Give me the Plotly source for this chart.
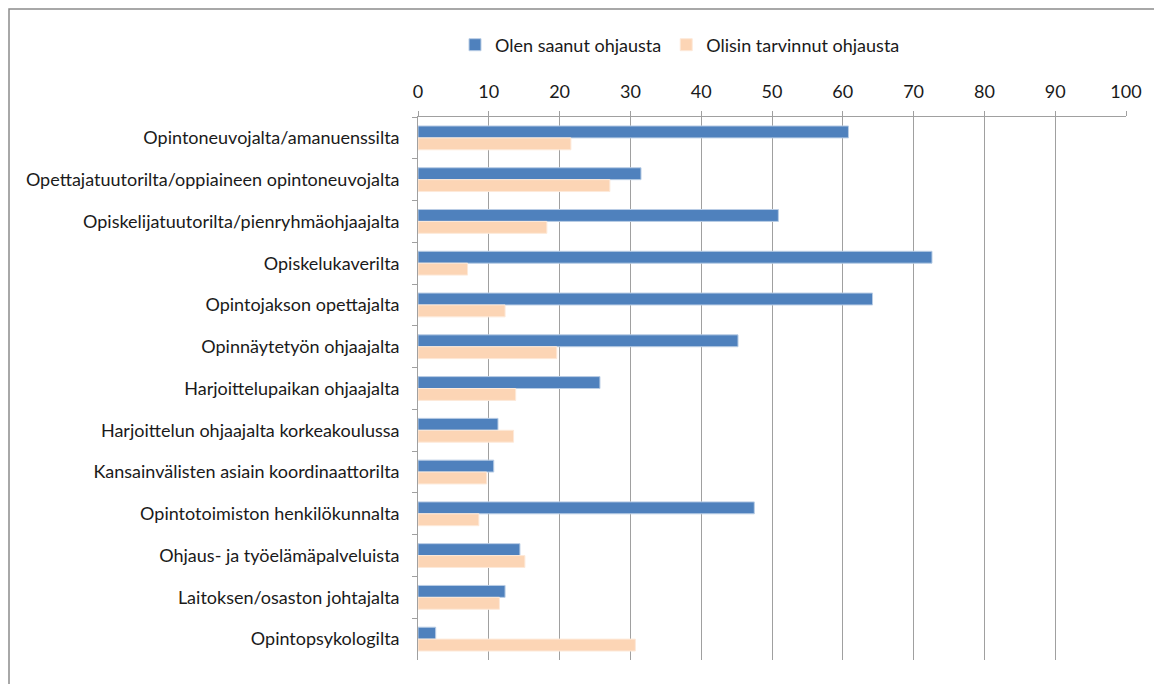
import plotly.graph_objects as go

categories = [
    "Opintoneuvojalta/amanuenssilta",
    "Opettajatuutorilta/oppiaineen opintoneuvojalta",
    "Opiskelijatuutorilta/pienryhmäohjaajalta",
    "Opiskelukaverilta",
    "Opintojakson opettajalta",
    "Opinnäytetyön ohjaajalta",
    "Harjoittelupaikan ohjaajalta",
    "Harjoittelun ohjaajalta korkeakoulussa",
    "Kansainvälisten asiain koordinaattorilta",
    "Opintotoimiston henkilökunnalta",
    "Ohjaus- ja työelämäpalveluista",
    "Laitoksen/osaston johtajalta",
    "Opintopsykologilta",
]
saanut = [60.8, 31.5, 50.9, 72.6, 64.2, 45.2, 25.7, 11.3, 10.7, 47.5, 14.4, 12.3, 2.5]
tarvinnut = [21.6, 27.1, 18.2, 7.0, 12.3, 19.6, 13.8, 13.5, 9.7, 8.6, 15.1, 11.5, 30.7]
series_names = ["Olen saanut ohjausta", "Olisin tarvinnut ohjausta"]
x_ticks = list(range(0, 101, 10))

OFF = 8  # page offset of the figure inside the window
W, H = 1162 - OFF, 684 - OFF
L, R, T, B = 418 - OFF, 36, 117 - OFF, 24
pw, ph = W - L - R, H - T - B

def px_x(x):
    return (x - OFF - L) / pw

def px_y(y):
    return 1 - (y - OFF - T) / ph

fig = go.Figure()
fig.add_trace(go.Bar(
    y=categories, x=saanut, name=series_names[0], orientation="h",
    marker=dict(color="#4F81BD", line=dict(color="#B9CDE5", width=1)),
))
fig.add_trace(go.Bar(
    y=categories, x=tarvinnut, name=series_names[1], orientation="h",
    marker=dict(color="#FCD5B5", line=dict(color="#FDE9D9", width=1)),
))

fig.update_layout(
    width=W, height=H,
    margin=dict(l=L, r=R, t=T, b=B),
    paper_bgcolor="white", plot_bgcolor="white",
    barmode="group", bargap=0.43, bargroupgap=0,
    font=dict(family="Lato, 'Open Sans', sans-serif", size=18, color="#1a1a1a"),
    showlegend=True,
    legend=dict(
        orientation="h", x=px_x(680), y=px_y(45), xanchor="center", yanchor="middle",
        font=dict(size=18, color="#1a1a1a"), traceorder="normal",
        itemwidth=30, bgcolor="rgba(0,0,0,0)",
    ),
    xaxis=dict(
        side="top", range=[0, 100], tickvals=x_ticks, ticks="outside", ticklen=5,
        tickcolor="#a0a0a0", showgrid=True, gridcolor="#a0a0a0", gridwidth=1.3,
        showline=True, linecolor="#a0a0a0", linewidth=1, zeroline=False,
        tickfont=dict(size=18, color="#1a1a1a"), ticklabelstandoff=6, fixedrange=True,
    ),
    yaxis=dict(
        autorange="reversed", type="category", ticks="outside", tickson="boundaries",
        ticklen=5, tickcolor="#a0a0a0", showline=True, linecolor="#a0a0a0", linewidth=1,
        showgrid=False, tickfont=dict(size=18, color="#1a1a1a"), ticksuffix="   ",
        fixedrange=True,
    ),
)

fig.add_shape(
    type="rect", xref="paper", yref="paper",
    x0=px_x(9), x1=px_x(1162 + 20), y0=px_y(684 + 20), y1=px_y(9),
    line=dict(color="#8c8c8c", width=1.5), fillcolor="rgba(0,0,0,0)", layer="below",
)

fig.write_html("out.html")
